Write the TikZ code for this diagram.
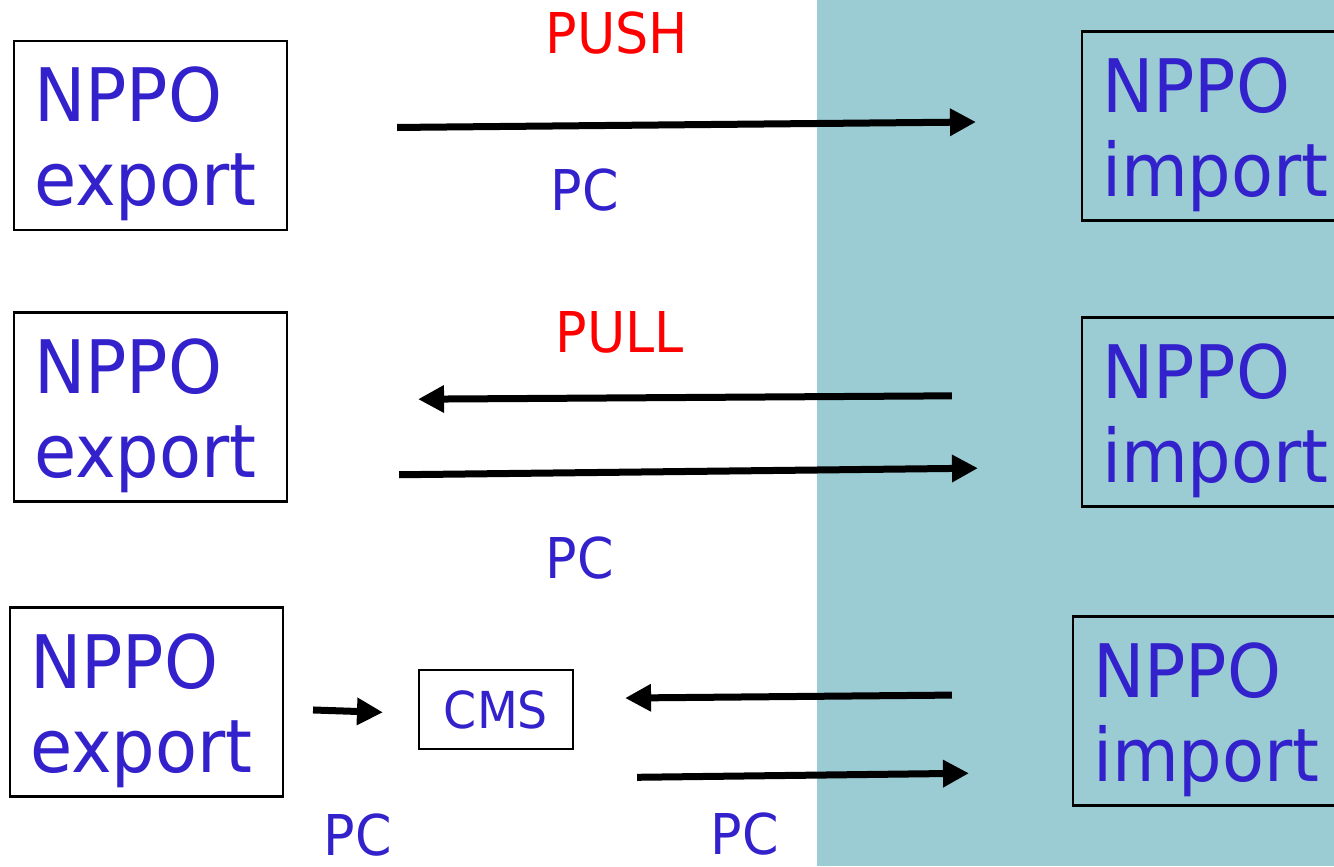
\documentclass[tikz,border=0pt]{standalone}
\usepackage{fontspec}
\setmainfont{DejaVu Sans}[FakeStretch=0.93]
\usetikzlibrary{positioning,arrows.meta}
\definecolor{nppoblue}{RGB}{51,34,204}
\definecolor{importbg}{RGB}{155,203,211}

\begin{document}
\begin{tikzpicture}[
    org-box/.style={draw, line width=0.6pt, minimum width=2.73cm, minimum height=1.89cm, text width=2.33cm,
      inner xsep=0.2cm, inner ysep=0pt, text height=0.72cm, align=left, text=nppoblue,
      font=\fontsize{21}{24}\selectfont},
    flow-arr/.style={line width=0.07cm, -{Triangle[length=0.26cm, width=0.26cm]}},
    lbl/.style={inner sep=0pt, text=nppoblue, font=\fontsize{16}{18}\selectfont}
  ]
\useasboundingbox (0,0) rectangle (13.34,-8.66);
\clip (0,0) rectangle (13.34,-8.66);

% Importing side
\fill[importbg] (8.17,0) rectangle (13.34,-8.66);

% Exporting NPPOs
\node[org-box] (exp1) at (1.505,-1.355) {NPPO\\export};
\node[org-box] (exp2) at (1.505,-4.07) {NPPO\\export};
\node[org-box] (exp3) at (1.465,-7.02) {NPPO\\export};

% Importing NPPOs
\node[org-box] (imp1) at (12.185,-1.26) {NPPO\\import};
\node[org-box] (imp2) at (12.185,-4.12) {NPPO\\import};
\node[org-box] (imp3) at (12.095,-7.11) {NPPO\\import};

% Central system
\node[draw, line width=0.6pt, minimum width=1.54cm, minimum height=0.79cm, text=nppoblue,
  font=\fontsize{14.5}{16}\selectfont] (cms) at (4.96,-7.095) {CMS};

% Push
\draw[flow-arr, shorten <=1.09cm, shorten >=1.05cm] ([yshift=0.07cm]exp1.east) -- ([yshift=0.05cm]imp1.west);
\node[lbl, text=red] (push) at (6.17,-0.33) {PUSH};
\node[lbl] (pc1) at (5.85,-1.90) {PC};

% Pull
\draw[flow-arr, shorten <=1.29cm, shorten >=1.30cm] ([yshift=0.17cm]imp2.west) -- ([yshift=0.07cm]exp2.east);
\draw[flow-arr, shorten <=1.11cm, shorten >=1.03cm] ([yshift=-0.69cm]exp2.east) -- ([yshift=-0.55cm]imp2.west);
\node[lbl, text=red] (pull) at (6.20,-3.32) {PULL};
\node[lbl] (pc2) at (5.80,-5.58) {PC};

% Via central system
\draw[flow-arr, shorten <=0.29cm, shorten >=0.35cm] ([yshift=-0.07cm]exp3.east) -- ([yshift=-0.04cm]cms.west);
\draw[flow-arr, shorten <=1.20cm, shorten >=0.51cm] ([yshift=0.17cm]imp3.west) -- ([yshift=0.11cm]cms.east);
\draw[flow-arr, shorten <=0.63cm, shorten >=1.03cm] ([yshift=-0.28cm]cms.south east) -- ([yshift=-0.61cm]imp3.west);
\node[lbl] (pc3) at (3.58,-8.35) {PC};
\node[lbl] (pc4) at (7.45,-8.34) {PC};

\end{tikzpicture}
\end{document}
